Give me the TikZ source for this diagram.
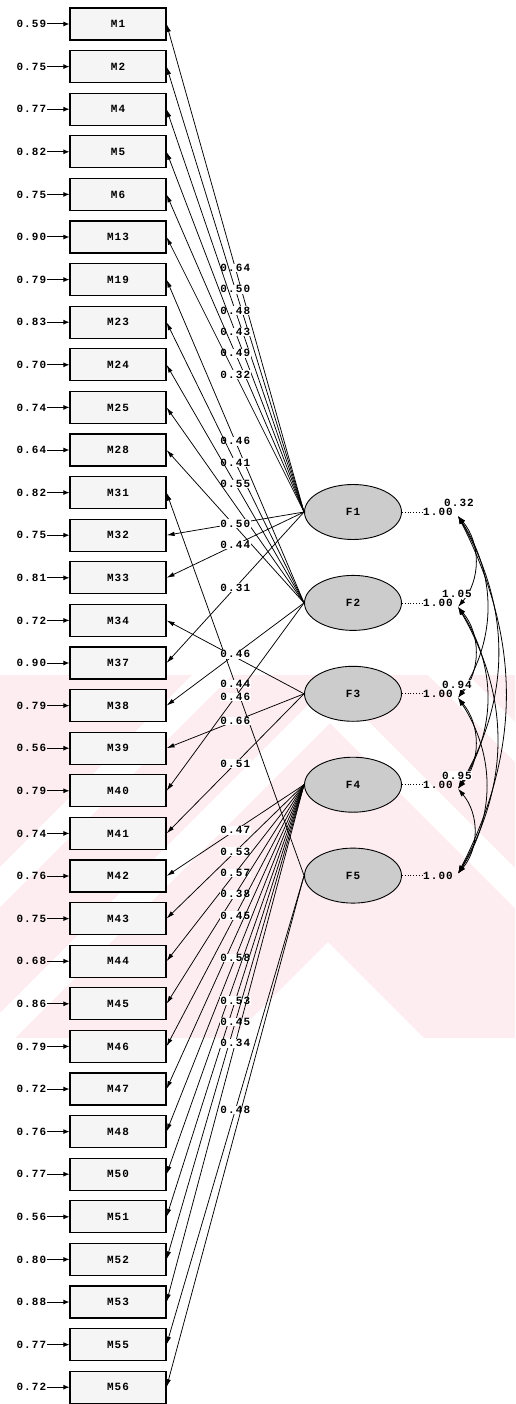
\documentclass[tikz,border=0pt]{standalone}
\usepackage{fontspec}
\setmonofont[LetterSpace=10]{Liberation Mono}
\usetikzlibrary{positioning}
\usetikzlibrary{shapes.geometric, calc, arrows.meta}
\newcommand{\pathfont}{\ttfamily\bfseries\fontsize{11}{12}\selectfont}
\definecolor{markpink}{RGB}{253,236,240}

\begin{document}
\begin{tikzpicture}[x=1pt, y=-1pt, node distance=9.5pt]
       \pathfont
       \tikzstyle{box} = [
            rectangle,
            draw=black,
            line width=1.1pt,
            fill=gray!8,
            minimum width=96pt,
            minimum height=32pt,
            inner sep=0pt
       ]
       \tikzstyle{factor} = [
            ellipse,
            draw=black,
            line width=0.9pt,
            fill=gray!40,
            minimum width=97pt,
            minimum height=55pt
       ]
       \tikzstyle{errlab} = [inner sep=1pt]
       \tikzstyle{lab} = [fill=white, inner sep=0.6pt]
       \tikzstyle{arrow} = [line width=0.75pt, -{Latex[length=8pt, width=4.5pt]}]
       \tikzstyle{errarrow} = [line width=1pt, -{Latex[length=6pt, width=5pt]}]
       \tikzstyle{covarrow} = [line width=0.8pt, {Latex[length=8pt, width=5pt]}-{Latex[length=8pt, width=5pt]}]

       \useasboundingbox (0,0) rectangle (515,1404);

       % watermark behind the paths
       \begin{scope}
           \clip (0,675) rectangle (515,1038);
           \fill[markpink] (0,675) rectangle (515,1038);
           \fill[white] (0,867) -- (330,537) -- (515,722) -- (515,762) -- (330,577) -- (0,907) -- cycle;
           \fill[white] (0,1013) -- (330,683) -- (515,868) -- (515,908) -- (330,723) -- (0,1053) -- cycle;
           \fill[white] (232,1038) -- (328,942) -- (424,1038) -- cycle;
       \end{scope}

       % observed variables
       \node (M1) [box] at (118,24) {M1};
       \node (M2) [box, below=of M1] {M2};
       \node (M4) [box, below=of M2] {M4};
       \node (M5) [box, below=of M4] {M5};
       \node (M6) [box, below=of M5] {M6};
       \node (M13) [box, below=of M6] {M13};
       \node (M19) [box, below=of M13] {M19};
       \node (M23) [box, below=of M19] {M23};
       \node (M24) [box, below=of M23] {M24};
       \node (M25) [box, below=of M24] {M25};
       \node (M28) [box, below=of M25] {M28};
       \node (M31) [box, below=of M28] {M31};
       \node (M32) [box, below=of M31] {M32};
       \node (M33) [box, below=of M32] {M33};
       \node (M34) [box, below=of M33] {M34};
       \node (M37) [box, below=of M34] {M37};
       \node (M38) [box, below=of M37] {M38};
       \node (M39) [box, below=of M38] {M39};
       \node (M40) [box, below=of M39] {M40};
       \node (M41) [box, below=of M40] {M41};
       \node (M42) [box, below=of M41] {M42};
       \node (M43) [box, below=of M42] {M43};
       \node (M44) [box, below=of M43] {M44};
       \node (M45) [box, below=of M44] {M45};
       \node (M46) [box, below=of M45] {M46};
       \node (M47) [box, below=of M46] {M47};
       \node (M48) [box, below=of M47] {M48};
       \node (M50) [box, below=of M48] {M50};
       \node (M51) [box, below=of M50] {M51};
       \node (M52) [box, below=of M51] {M52};
       \node (M53) [box, below=of M52] {M53};
       \node (M55) [box, below=of M53] {M55};
       \node (M56) [box, below=of M55] {M56};

       % error variances
       \node (e1) [errlab, left=22pt of M1] {0.59};
       \node (e2) [errlab, left=22pt of M2] {0.75};
       \node (e4) [errlab, left=22pt of M4] {0.77};
       \node (e5) [errlab, left=22pt of M5] {0.82};
       \node (e6) [errlab, left=22pt of M6] {0.75};
       \node (e13) [errlab, left=22pt of M13] {0.90};
       \node (e19) [errlab, left=22pt of M19] {0.79};
       \node (e23) [errlab, left=22pt of M23] {0.83};
       \node (e24) [errlab, left=22pt of M24] {0.70};
       \node (e25) [errlab, left=22pt of M25] {0.74};
       \node (e28) [errlab, left=22pt of M28] {0.64};
       \node (e31) [errlab, left=22pt of M31] {0.82};
       \node (e32) [errlab, left=22pt of M32] {0.75};
       \node (e33) [errlab, left=22pt of M33] {0.81};
       \node (e34) [errlab, left=22pt of M34] {0.72};
       \node (e37) [errlab, left=22pt of M37] {0.90};
       \node (e38) [errlab, left=22pt of M38] {0.79};
       \node (e39) [errlab, left=22pt of M39] {0.56};
       \node (e40) [errlab, left=22pt of M40] {0.79};
       \node (e41) [errlab, left=22pt of M41] {0.74};
       \node (e42) [errlab, left=22pt of M42] {0.76};
       \node (e43) [errlab, left=22pt of M43] {0.75};
       \node (e44) [errlab, left=22pt of M44] {0.68};
       \node (e45) [errlab, left=22pt of M45] {0.86};
       \node (e46) [errlab, left=22pt of M46] {0.79};
       \node (e47) [errlab, left=22pt of M47] {0.72};
       \node (e48) [errlab, left=22pt of M48] {0.76};
       \node (e50) [errlab, left=22pt of M50] {0.77};
       \node (e51) [errlab, left=22pt of M51] {0.56};
       \node (e52) [errlab, left=22pt of M52] {0.80};
       \node (e53) [errlab, left=22pt of M53] {0.88};
       \node (e55) [errlab, left=22pt of M55] {0.77};
       \node (e56) [errlab, left=22pt of M56] {0.72};

       \foreach \m in {1,2,4,5,6,13,19,23,24,25,28,31,32,33,34,37,38,39,40,41,42,43,44,45,46,47,48,50,51,52,53,55,56}
           \draw[errarrow] (e\m) -- (M\m);

       % latent factors
       \node (F1) [factor] at (353,512) {F1};
       \node (F2) [factor, below=35pt of F1] {F2};
       \node (F3) [factor, below=35pt of F2] {F3};
       \node (F4) [factor, below=35pt of F3] {F4};
       \node (F5) [factor, below=35pt of F4] {F5};

       % loadings
       \draw[arrow] (F1.west) -- node[lab] {0.64} (M1.east);
       \draw[arrow] (F1.west) -- node[lab] {0.50} (M2.east);
       \draw[arrow] (F1.west) -- node[lab] {0.48} (M4.east);
       \draw[arrow] (F1.west) -- node[lab] {0.43} (M5.east);
       \draw[arrow] (F1.west) -- node[lab] {0.49} (M6.east);
       \draw[arrow] (F1.west) -- node[lab] {0.32} (M13.east);
       \draw[arrow] (F2.west) -- node[lab] {0.46} (M19.east);
       \draw[arrow] (F2.west) -- node[lab] {0.41} (M23.east);
       \draw[arrow] (F2.west) -- node[lab] {0.55} (M24.east);
       \draw[arrow] (F2.west) -- (M25.east);
       \draw[arrow] (F2.west) -- (M28.east);
       \draw[arrow] (F5.west) -- node[lab] {0.44} (M31.east);
       \draw[arrow] (F1.west) -- node[lab] {0.50} (M32.east);
       \draw[arrow] (F1.west) -- node[lab] {0.44} (M33.east);
       \draw[arrow] (F3.west) -- (M34.east);
       \draw[arrow] (F1.west) -- node[lab] {0.31} (M37.east);
       \draw[arrow] (F2.west) -- node[lab] {0.46} (M38.east);
       \draw[arrow] (F3.west) -- node[lab] {0.66} (M39.east);
       \draw[arrow] (F2.west) -- node[lab] {0.46} (M40.east);
       \draw[arrow] (F3.west) -- node[lab] {0.51} (M41.east);
       \draw[arrow] (F4.west) -- node[lab] {0.47} (M42.east);
       \draw[arrow] (F4.west) -- node[lab] {0.53} (M43.east);
       \draw[arrow] (F4.west) -- node[lab] {0.57} (M44.east);
       \draw[arrow] (F4.west) -- node[lab] {0.38} (M45.east);
       \draw[arrow] (F4.west) -- node[lab] {0.45} (M46.east);
       \draw[arrow] (F4.west) -- (M47.east);
       \draw[arrow] (F4.west) -- node[lab] {0.58} (M48.east);
       \draw[arrow] (F4.west) -- (M50.east);
       \draw[arrow] (F4.west) -- node[lab] {0.53} (M51.east);
       \draw[arrow] (F4.west) -- node[lab] {0.45} (M52.east);
       \draw[arrow] (F4.west) -- node[lab] {0.34} (M53.east);
       \draw[arrow] (F5.west) -- node[lab] {0.48} (M55.east);
       \draw[arrow] (F5.west) -- (M56.east);

       % factor variances
       \node (v1) [errlab, right=20pt of F1] {1.00};
       \node (v2) [errlab, right=20pt of F2] {1.00};
       \node (v3) [errlab, right=20pt of F3] {1.00};
       \node (v4) [errlab, right=20pt of F4] {1.00};
       \node (v5) [errlab, right=20pt of F5] {1.00};
       \draw[dotted, line width=0.8pt] (F1) -- (v1);
       \draw[dotted, line width=0.8pt] (F2) -- (v2);
       \draw[dotted, line width=0.8pt] (F3) -- (v3);
       \draw[dotted, line width=0.8pt] (F4) -- (v4);
       \draw[dotted, line width=0.8pt] (F5) -- (v5);

       \coordinate (k1) at ($(v1.east)+(4,4)$);
       \coordinate (k2) at ($(v2.east)+(4,4)$);
       \coordinate (k3) at ($(v3.east)+(4,4)$);
       \coordinate (k4) at ($(v4.east)+(4,4)$);
       \coordinate (k5) at ($(v5.east)+(4,-2)$);

       % covariances
       \draw[covarrow] (k1) to[bend left=40] (k2);
       \draw[covarrow] (k1) to[bend left=33] (k3);
       \draw[covarrow] (k1) to[bend left=30] (k4);
       \draw[covarrow] (k1) to[bend left=27] (k5);
       \draw[covarrow] (k2) to[bend left=40] (k3);
       \draw[covarrow] (k2) to[bend left=33] (k4);
       \draw[covarrow] (k2) to[bend left=30] (k5);
       \draw[covarrow] (k3) to[bend left=40] (k4);
       \draw[covarrow] (k3) to[bend left=33] (k5);
       \draw[covarrow] (k4) to[bend left=40] (k5);

       \node (c1) [lab] at ($(v1)+(21,-9)$) {0.32};
       \node (c2) [lab] at ($(v2)+(19,-9)$) {1.05};
       \node (c3) [lab] at ($(v3)+(19,-9)$) {0.94};
       \node (c4) [lab] at ($(v4)+(19,-9)$) {0.95};
\end{tikzpicture}
\end{document}
